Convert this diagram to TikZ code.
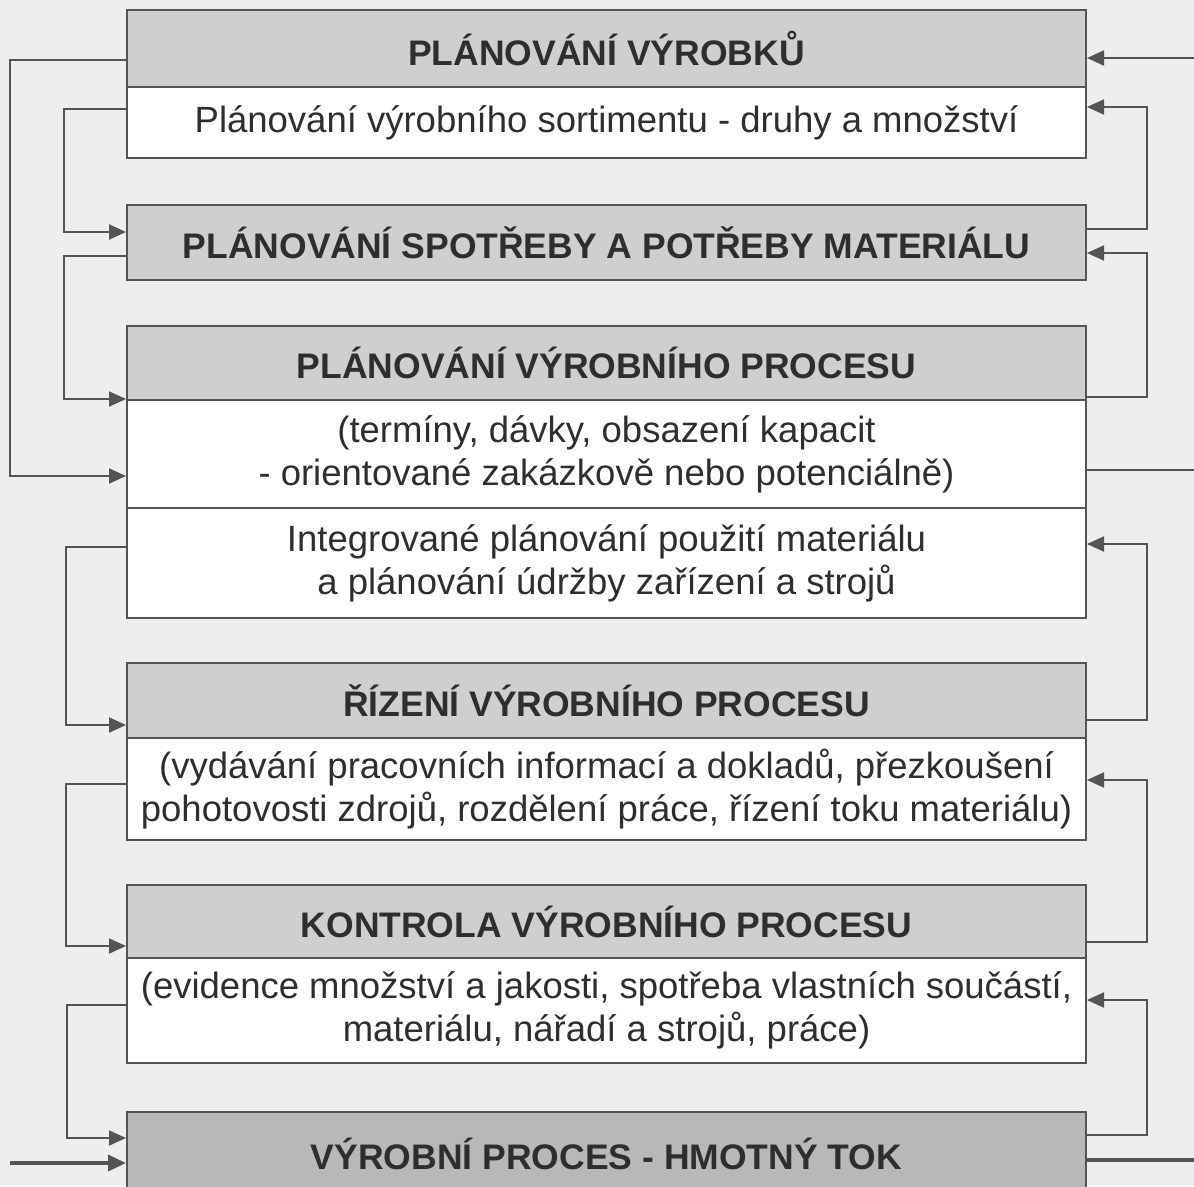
\documentclass[tikz,border=0pt]{standalone}
\usepackage{fontspec}
\setmainfont{Liberation Sans}
\usetikzlibrary{arrows.meta}
\definecolor{paper}{gray}{0.935}
\definecolor{band}{gray}{0.81}
\definecolor{banddark}{gray}{0.72}
\definecolor{ink}{gray}{0.18}
\definecolor{wire}{gray}{0.33}

\begin{document}
\begin{tikzpicture}[x=1pt,y=-1pt,
  box/.style={draw=wire, line width=2pt, minimum width=959pt, inner sep=0pt,
              align=center, text=ink},
  head/.style={box, fill=band, font=\bfseries\fontsize{35.5}{43}\selectfont},
  body/.style={box, fill=white, font=\fontsize{36.5}{43}\selectfont},
  link/.style={draw=wire, line width=2pt, -{Triangle[length=17pt,width=15pt]}},
  flow/.style={draw=wire, line width=3.5pt},
  flowin/.style={flow, -{Triangle[length=18pt,width=16pt]}}]

% paper
\fill[paper] (0,0) rectangle (1194,1186);
\useasboundingbox (0,0) rectangle (1194,1186);

% planning levels
\node[head, minimum height=77pt]  (b1h) at (606.5,48.5)  {PLÁNOVÁNÍ VÝROBKŮ};
\node[body, minimum height=71pt]  (b1b) at (606.5,122.5) {Plánování výrobního sortimentu - druhy a množství};

\node[head, minimum height=75pt]  (b2)  at (606.5,242.5) {PLÁNOVÁNÍ SPOTŘEBY A POTŘEBY MATERIÁLU};

\node[head, minimum height=74pt]  (b3h) at (606.5,363)   {PLÁNOVÁNÍ VÝROBNÍHO PROCESU};
\node[body, minimum height=108pt] (b3a) at (606.5,454)   {(termíny, dávky, obsazení kapacit\\- orientované zakázkově nebo potenciálně)};
\node[body, minimum height=110pt] (b3b) at (606.5,563)   {Integrované plánování použití materiálu\\a plánování údržby zařízení a strojů};

\node[head, minimum height=75pt]  (b4h) at (606.5,700.5) {ŘÍZENÍ VÝROBNÍHO PROCESU};
\node[body, minimum height=102pt] (b4b) at (606.5,789)   {(vydávání pracovních informací a dokladů, přezkoušení\\pohotovosti zdrojů, rozdělení práce, řízení toku materiálu)};

\node[head, minimum height=73pt]  (b5h) at (606.5,921.5) {KONTROLA VÝROBNÍHO PROCESU};
\node[body, minimum height=105pt] (b5b) at (606.5,1010.5){(evidence množství a jakosti, spotřeba vlastních součástí,\\materiálu, nářadí a strojů, práce)};

\node[head, fill=banddark, minimum height=84pt] (b6) at (606.5,1154) {VÝROBNÍ PROCES - HMOTNÝ TOK};

% free ends at the paper edge
\coordinate (inTop)  at (1194,58);
\coordinate (outMid) at (1194,470);
\coordinate (inBot)  at (10,1163);
\coordinate (outBot) at (1194,1160);

% left-hand feed-forward loops
\draw[link] (b1h.west |- 0,60)   -| (10,476) -- (b3a.west |- 0,476);
\draw[link] (b1b.west |- 0,109)  -| (64,232) -- (b2.west |- 0,232);
\draw[link] (b2.west |- 0,256)   -| (64,399) -- (b3h.west |- 0,399);
\draw[link] (b3b.west |- 0,547)  -| (66,725) -- (b4h.west |- 0,725);
\draw[link] (b4b.west |- 0,784)  -| (66,946) -- (b5h.west |- 0,946);
\draw[link] (b5b.west |- 0,1005) -| (67,1138) -- (b6.west |- 0,1138);

% right-hand feedback loops
\draw[link] (b2.east |- 0,229)   -| (1147,107) -- (b1b.east |- 0,107);
\draw[link] (b3h.east |- 0,397)  -| (1147,253) -- (b2.east |- 0,253);
\draw[link] (b4h.east |- 0,720)  -| (1147,544) -- (b3b.east |- 0,544);
\draw[link] (b5h.east |- 0,942)  -| (1147,780) -- (b4b.east |- 0,780);
\draw[link] (b6.east |- 0,1135)  -| (1147,1000) -- (b5b.east |- 0,1000);

% external inputs and outputs
\draw[link] (inTop) -- (b1h.east |- inTop);
\draw[draw=wire, line width=2pt] (b3a.east |- outMid) -- (outMid);
\draw[flowin] (inBot) -- (b6.west |- inBot);
\draw[flow] (b6.east |- outBot) -- (outBot);
\end{tikzpicture}
\end{document}
